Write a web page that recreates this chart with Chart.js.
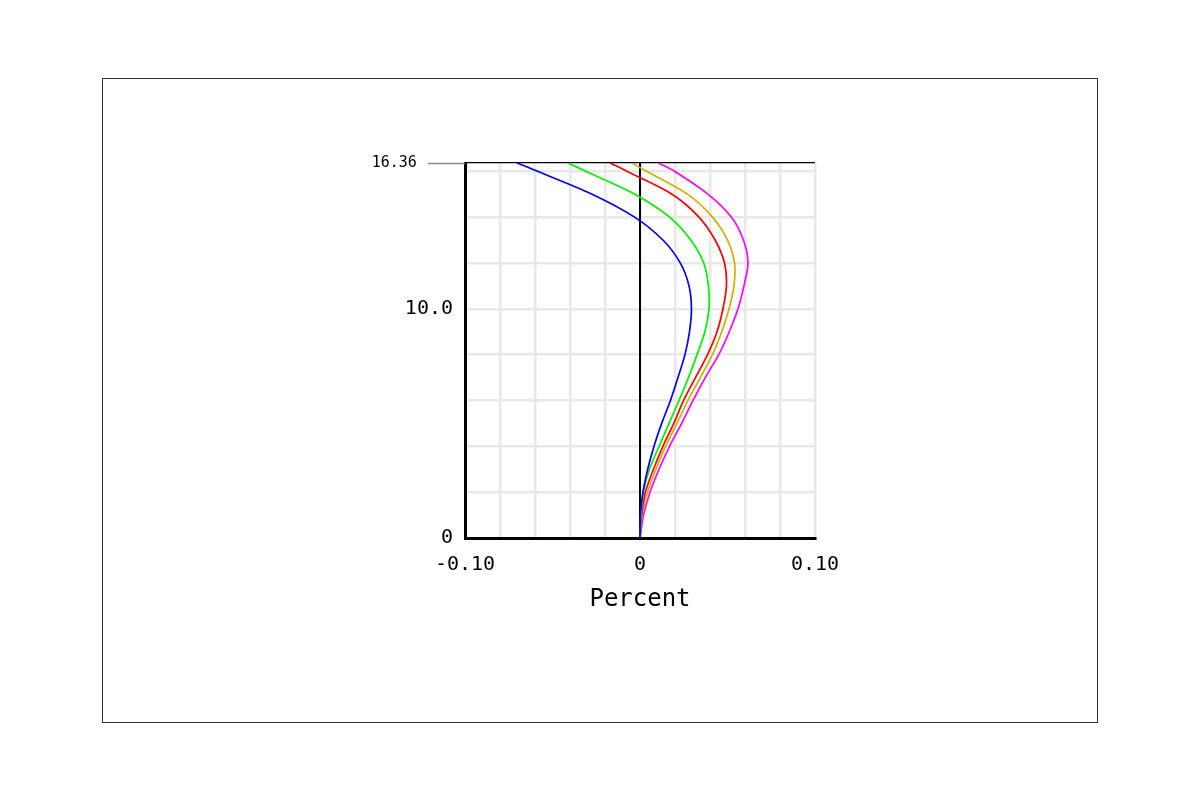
<!DOCTYPE html>
<html><head><meta charset="utf-8">
<script src="https://cdn.jsdelivr.net/npm/chart.js@4.4.0/dist/chart.umd.min.js"></script>
<style>html,body{margin:0;padding:0;background:#fff;}#wrap{width:1200px;height:800px;position:relative;}</style>
</head><body><div id="wrap"><canvas id="c" width="1200" height="800"></canvas></div>
<script>
const depths = [0,1,2,3,4,5,6,7,8,9,10,11,12,13,14,15,16,16.36];
const blueVals = [0,0.0002,0.0017,0.0044,0.008,0.0124,0.0174,0.0217,0.0257,0.0283,0.0294,0.028,0.023,0.0131,-0.0031,-0.0274,-0.0586,-0.0703];
const greenVals = [0,0.0006,0.0019,0.0054,0.0109,0.0166,0.0223,0.0277,0.0326,0.0371,0.0394,0.0391,0.0364,0.029,0.0169,-0.003,-0.031,-0.0411];
const redVals = [0,0.0009,0.0031,0.0077,0.0131,0.0193,0.0249,0.0317,0.0386,0.044,0.0474,0.0494,0.0483,0.0429,0.0337,0.0183,-0.0074,-0.0171];
const yellowVals = [0,0.0011,0.0043,0.0091,0.0146,0.0211,0.0274,0.0345,0.0414,0.0467,0.0509,0.0537,0.054,0.05,0.0414,0.0271,0.0037,-0.0047];
const magentaVals = [0,0.002,0.0057,0.0109,0.0169,0.0238,0.0303,0.0373,0.045,0.051,0.056,0.0594,0.0617,0.0591,0.0522,0.0388,0.0197,0.0105];
const xTickValues = [-0.1,-0.08,-0.06,-0.04,-0.02,0,0.02,0.04,0.06,0.08,0.1];
const xTickLabels = {"-0.1":"-0.10","0":"0","0.1":"0.10"};
const yTickValues = [0,2,4,6,8,10,12,14,16,16.36];
const yTickLabels = {"0":"0","10":"10.0","16.36":"16.36"};
const xTitle = "Percent";

const FONT = "'DejaVu Sans Mono', monospace";
function mk(vals, color){
  return {data: depths.map((d,i)=>({x: vals[i], y: d})), borderColor: color, borderWidth: 1.7,
    showLine: true, pointRadius: 0, tension: 0.3, fill: false};
}
const frame = {
  id: 'frame',
  beforeDraw(chart){
    const ctx = chart.ctx;
    ctx.save();
    ctx.fillStyle = '#fff'; ctx.fillRect(0,0,chart.width,chart.height);
    ctx.strokeStyle = '#333'; ctx.lineWidth = 1;
    ctx.strokeRect(102.5, 78.5, 995, 644);
    ctx.restore();
  },
  beforeDatasetsDraw(chart){
    const ctx = chart.ctx, x = chart.scales.x, a = chart.chartArea;
    const px = Math.round(x.getPixelForValue(0));
    ctx.save();
    ctx.strokeStyle = '#000'; ctx.lineWidth = 2;
    ctx.beginPath(); ctx.moveTo(px, a.top); ctx.lineTo(px, a.bottom); ctx.stroke();
    ctx.restore();
  },
  afterDraw(chart){
    const ctx = chart.ctx, y = chart.scales.y, a = chart.chartArea;
    const py = Math.round(y.getPixelForValue(16.36)) + 0.5;
    ctx.save();
    ctx.strokeStyle = '#888'; ctx.lineWidth = 1.5;
    ctx.beginPath(); ctx.moveTo(428, py); ctx.lineTo(a.left, py); ctx.stroke();
    ctx.restore();
  }
};
new Chart(document.getElementById('c'), {
  type: 'scatter',
  data: {datasets: [mk(blueVals,'#0000ff'), mk(greenVals,'#00ee00'), mk(redVals,'#ff0000'), mk(yellowVals,'#c8b400'), mk(magentaVals,'#ff00ff')]},
  options: {
    responsive: false, animation: false,
    layout: {padding: {left: 365, top: 163, right: 385, bottom: 182}},
    plugins: {legend: {display: false}, tooltip: {enabled: false}},
    scales: {
      x: {
        type: 'linear', min: -0.1, max: 0.1,
        afterBuildTicks: s => { s.ticks = xTickValues.map(v => ({value: v})); },
        afterFit: s => { s.height = 80; },
        ticks: {autoSkip: false, maxRotation: 0, padding: 15, color: '#000',
          font: {family: FONT, size: 20},
          callback: v => { const k = String(Math.round(v*100)/100); return xTickLabels[k] !== undefined ? xTickLabels[k] : ''; }},
        grid: {drawTicks: false, color: '#e8e8e8', lineWidth: 2.5},
        border: {display: true, color: '#000', width: 3},
        title: {display: true, text: xTitle, color: '#000', font: {family: FONT, size: 24}, padding: {top: 0, bottom: 4}}
      },
      y: {
        type: 'linear', min: 0, max: 16.36,
        afterBuildTicks: s => { s.ticks = yTickValues.map(v => ({value: v})); },
        afterFit: s => { s.width = 100; },
        ticks: {autoSkip: false, padding: 12, color: '#000',
          font: c => (c.tick && c.tick.value === 16.36) ? {family: FONT, size: 15} : {family: FONT, size: 20},
          callback: v => { const k = String(v); return yTickLabels[k] !== undefined ? (k === '16.36' ? yTickLabels[k] + '    ' : yTickLabels[k]) : ''; }},
        grid: {drawTicks: false,
          color: c => (c.tick && c.tick.value === 16.36) ? '#000' : '#e8e8e8',
          lineWidth: c => (c.tick && c.tick.value === 16.36) ? 1.2 : 2.5},
        border: {display: true, color: '#000', width: 3}
      }
    }
  },
  plugins: [frame]
});
</script></body></html>
